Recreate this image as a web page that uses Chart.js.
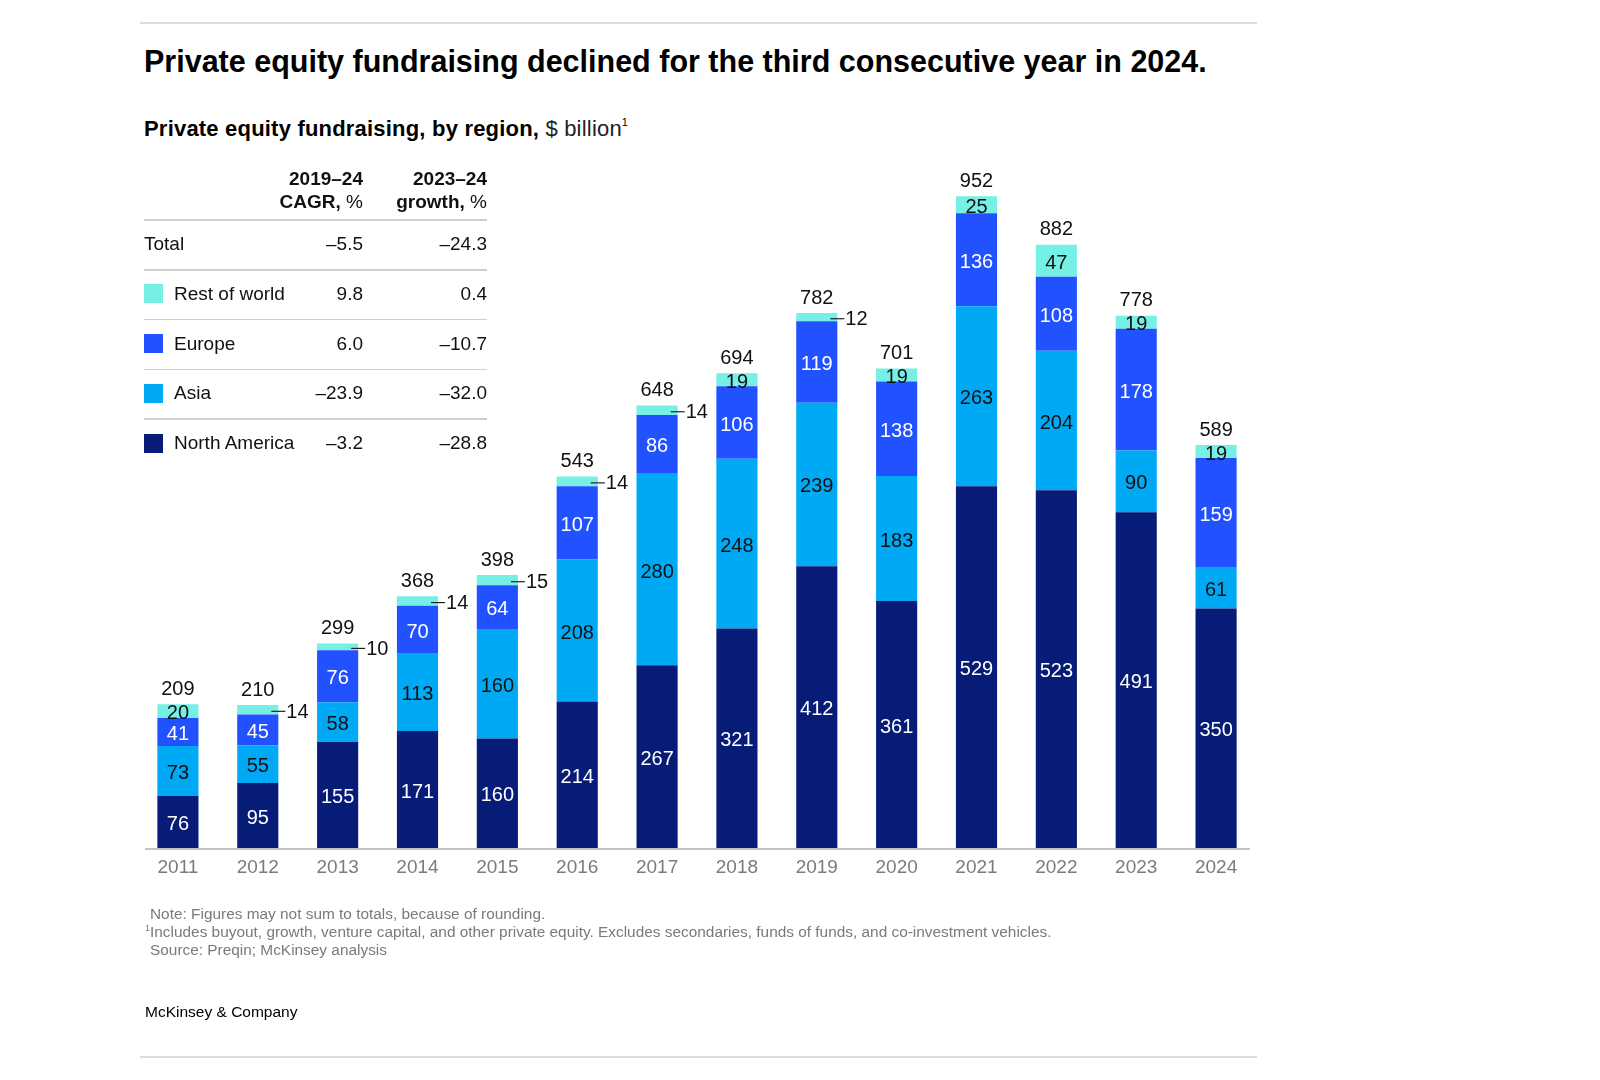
<!DOCTYPE html>
<html><head><meta charset="utf-8">
<script src="https://cdn.jsdelivr.net/npm/chart.js@4/dist/chart.umd.min.js"></script>
<style>
html,body{margin:0;padding:0;background:#fff;}
body{width:1600px;height:1080px;position:relative;overflow:hidden;font-family:"Liberation Sans",Arial,sans-serif;color:#000;}
#c{position:absolute;left:0;top:0;}
.abs{position:absolute;white-space:nowrap;}
.rule{position:absolute;height:2px;background:#dcdcdc;}
.trule{position:absolute;height:1.5px;background:#cfcfcf;left:144px;width:343px;}
#title{left:144px;top:41px;font-size:30.5px;font-weight:bold;line-height:40px;}
#subtitle{left:144px;top:115px;font-size:22px;line-height:28px;letter-spacing:0.2px;}
#subtitle b{font-weight:bold;}
#subtitle span{color:#222;}
#subtitle sup{font-size:11px;vertical-align:10px;line-height:0;}
.note{left:150px;font-size:15.4px;color:#7a7a7a;line-height:18px;}
.note sup{font-size:9px;vertical-align:6px;line-height:0;}
#brand{left:145px;top:1003px;font-size:15.5px;line-height:18px;}
.cell{position:absolute;font-size:19px;line-height:24px;white-space:nowrap;color:#111;}
.r{text-align:right;}
.sw{position:absolute;width:19px;height:19px;}
</style></head>
<body>
<div class="rule" style="left:140px;top:22px;width:1117px;"></div>
<div class="rule" style="left:140px;top:1056px;width:1117px;"></div>
<div id="title" class="abs">Private equity fundraising declined for the third consecutive year in 2024.</div>
<div id="subtitle" class="abs"><b>Private equity fundraising, by region,</b><span> $ billion</span><sup>1</sup></div>
<canvas id="c" width="1600" height="1080"></canvas>
<div id="table"></div>
<div class="abs note" style="top:905px;">Note: Figures may not sum to totals, because of rounding.</div>
<div class="abs note" style="top:923px;left:145px;"><sup>1</sup>Includes buyout, growth, venture capital, and other private equity. Excludes secondaries, funds of funds, and co-investment vehicles.</div>
<div class="abs note" style="top:941px;">Source: Preqin; McKinsey analysis</div>
<div id="brand" class="abs">McKinsey &amp; Company</div>
<script>
// ---- data ----
const years = ['2011','2012','2013','2014','2015','2016','2017','2018','2019','2020','2021','2022','2023','2024'];
const northAmerica = [76, 95, 155, 171, 160, 214, 267, 321, 412, 361, 529, 523, 491, 350];
const asia         = [73, 55, 58, 113, 160, 208, 280, 248, 239, 183, 263, 204, 90, 61];
const europe       = [41, 45, 76, 70, 64, 107, 86, 106, 119, 138, 136, 108, 178, 159];
const restOfWorld  = [20, 14, 10, 14, 15, 14, 14, 19, 12, 19, 25, 47, 19, 19];
const totals       = [209, 210, 299, 368, 398, 543, 648, 694, 782, 701, 952, 882, 778, 589];

const tableRows  = ['Total', 'Rest of world', 'Europe', 'Asia', 'North America'];
const cagr19_24  = [-5.5, 9.8, 6.0, -23.9, -3.2];
const growth23_24 = [-24.3, 0.4, -10.7, -32.0, -28.8];

const colors = {
  'Rest of world': '#76EFE4',
  'Europe': '#2251FF',
  'Asia': '#00A9F4',
  'North America': '#061C76'
};

// ---- table / legend ----
function fmt(v){ const s = Math.abs(v).toFixed(1); return v < 0 ? '\u2013' + s : s; }
const tbl = document.getElementById('table');
function add(html, cls, style){ const d=document.createElement('div'); d.className=cls; d.style.cssText=style; d.innerHTML=html; tbl.appendChild(d); return d; }
add('<b>2019\u201324</b>', 'cell r', 'right:'+(1600-363)+'px;top:167px;');
add('<b>CAGR,</b> %', 'cell r', 'right:'+(1600-363)+'px;top:190px;');
add('<b>2023\u201324</b>', 'cell r', 'right:'+(1600-487)+'px;top:167px;');
add('<b>growth,</b> %', 'cell r', 'right:'+(1600-487)+'px;top:190px;');
add('', 'trule', 'top:219px;');
tableRows.forEach((name, i) => {
  const cy = 244 + i * 49.8;
  const top = cy - 12;
  if (i === 0) {
    add(name, 'cell', 'left:144px;top:'+top+'px;');
  } else {
    add('', 'sw', 'left:144px;top:'+(cy-9.5)+'px;background:'+colors[name]+';');
    add(name, 'cell', 'left:174px;top:'+top+'px;');
  }
  add(fmt(cagr19_24[i]), 'cell r', 'right:'+(1600-363)+'px;top:'+top+'px;');
  add(fmt(growth23_24[i]), 'cell r', 'right:'+(1600-487)+'px;top:'+top+'px;');
  if (i < tableRows.length - 1) add('', 'trule', 'top:'+(cy+25)+'px;');
});

// ---- chart ----
const FONT = '"Liberation Sans", Arial, sans-serif';
const labelPlugin = {
  id: 'segLabels',
  beforeDatasetsDraw(chart) {
    const ctx = chart.ctx, a = chart.chartArea;
    ctx.save();
    ctx.strokeStyle = '#c4c4c4';
    ctx.lineWidth = 2;
    ctx.beginPath();
    ctx.moveTo(a.left + 7, a.bottom + 1);
    ctx.lineTo(a.right - 6, a.bottom + 1);
    ctx.stroke();
    ctx.restore();
  },
  afterDatasetsDraw(chart) {
    const ctx = chart.ctx;
    ctx.save();
    ctx.font = '20px ' + FONT;
    ctx.textBaseline = 'middle';
    chart.data.datasets.forEach((ds, i) => {
      const meta = chart.getDatasetMeta(i);
      meta.data.forEach((bar, j) => {
        const v = ds.data[j];
        const cy = (bar.y + bar.base) / 2 + 2.5;
        if (ds.smallOutside && v < 16) {
          const x0 = bar.x + bar.width / 2 - 7;
          ctx.strokeStyle = '#222';
          ctx.lineWidth = 1.2;
          ctx.beginPath(); ctx.moveTo(x0, cy - 1); ctx.lineTo(x0 + 14, cy - 1); ctx.stroke();
          ctx.fillStyle = '#111';
          ctx.textAlign = 'left';
          ctx.fillText(String(v), x0 + 15, cy);
        } else {
          ctx.fillStyle = ds.labelColor;
          ctx.textAlign = 'center';
          ctx.fillText(String(v), bar.x, cy);
        }
      });
    });
    const topMeta = chart.getDatasetMeta(chart.data.datasets.length - 1);
    ctx.fillStyle = '#111';
    ctx.textAlign = 'center';
    topMeta.data.forEach((bar, j) => {
      ctx.fillText(String(totals[j]), bar.x, bar.y - 15);
    });
    ctx.restore();
  }
};

new Chart(document.getElementById('c'), {
  type: 'bar',
  data: {
    labels: years,
    datasets: [
      { label: 'North America', data: northAmerica, backgroundColor: colors['North America'], labelColor: '#ffffff' },
      { label: 'Asia', data: asia, backgroundColor: colors['Asia'], labelColor: '#111111' },
      { label: 'Europe', data: europe, backgroundColor: colors['Europe'], labelColor: '#ffffff' },
      { label: 'Rest of world', data: restOfWorld, backgroundColor: colors['Rest of world'], labelColor: '#111111', smallOutside: true }
    ]
  },
  options: {
    responsive: false,
    animation: false,
    devicePixelRatio: 1,
    layout: { padding: { left: 138, right: 344, top: 164, bottom: 192 } },
    datasets: { bar: { barPercentage: 1, categoryPercentage: 0.515, borderWidth: 0 } },
    plugins: { legend: { display: false }, tooltip: { enabled: false }, title: { display: false } },
    scales: {
      x: {
        stacked: true,
        grid: { display: false, drawTicks: false },
        border: { display: false },
        ticks: { color: '#7b7b7b', font: { family: FONT, size: 19 }, padding: 8 },
        afterFit(scale) { scale.height = 40; }
      },
      y: { stacked: true, display: false, min: 0, max: 1000 }
    }
  },
  plugins: [labelPlugin]
});
</script>
</body></html>
